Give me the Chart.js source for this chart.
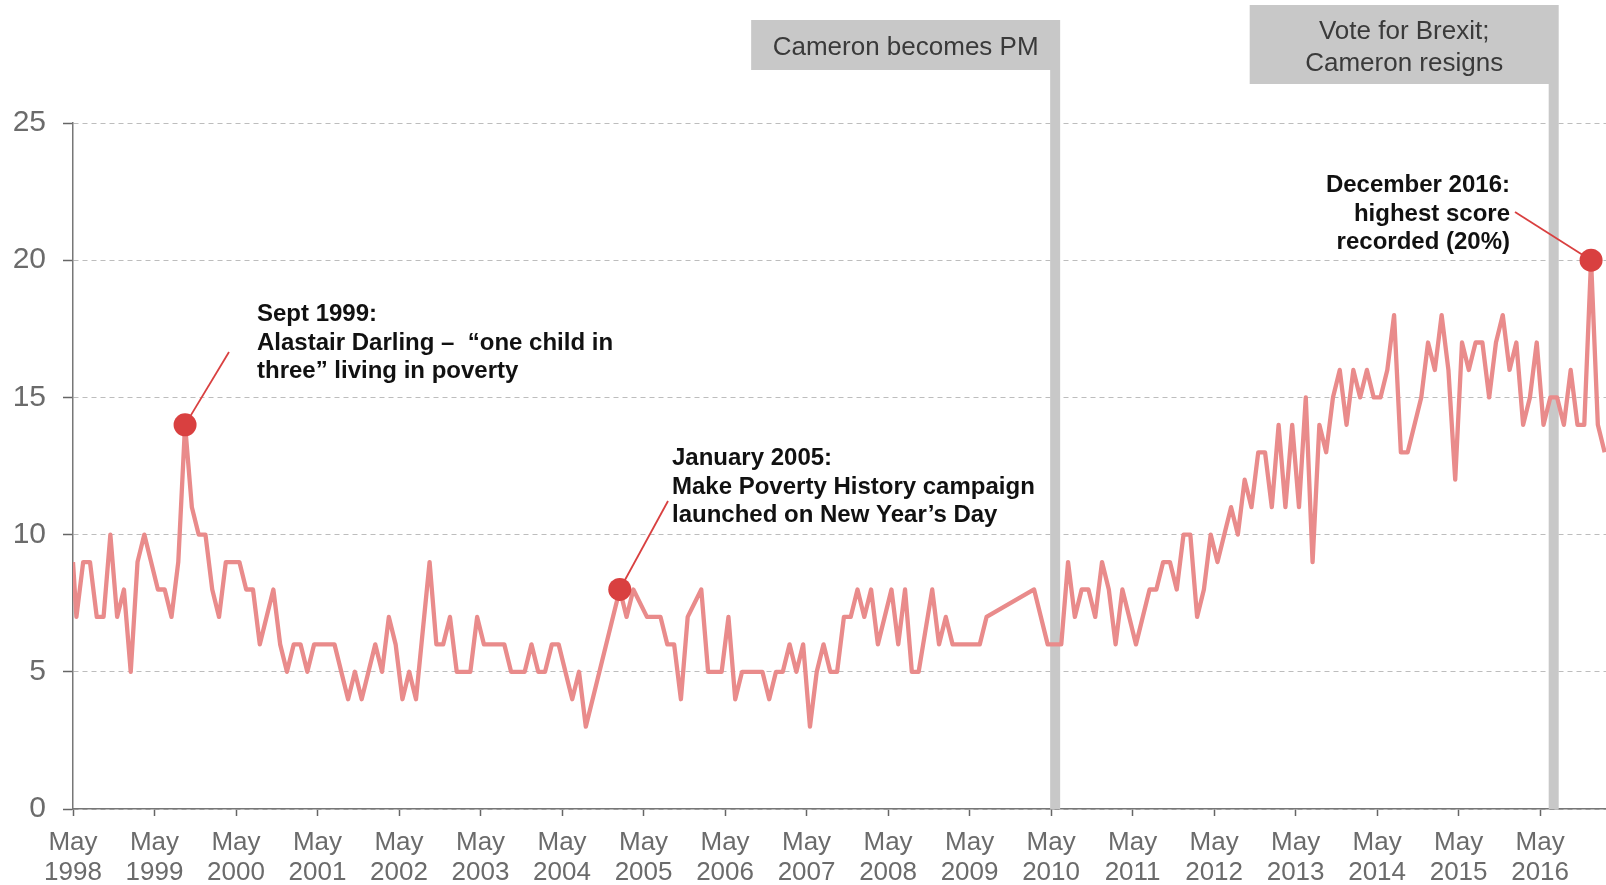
<!DOCTYPE html>
<html>
<head>
<meta charset="utf-8">
<script src="https://cdn.jsdelivr.net/npm/chart.js@4.4.1/dist/chart.umd.min.js"></script>
<style>
  html, body { margin: 0; padding: 0; background: #fff; }
  #wrap { width: 1606px; height: 885px; position: relative; }
</style>
</head>
<body>
<div id="wrap"><canvas id="chart"></canvas></div>
<script>
// months after May 1998 at which each reading was taken
var monthIdx = [
  0, 0.5, 1.5, 2.5, 3.5, 4.5, 5.5, 6.5, 7.5, 8.5, 9.5, 10.5, 12.5, 13.5, 14.5, 15.5,
  16.5, 17.5, 18.5, 19.5, 20.5, 21.5, 22.5, 24.5, 25.5, 26.5, 27.5, 29.5, 30.5, 31.5,
  32.5, 33.5, 34.5, 35.5, 38.5, 40.5, 41.5, 42.5, 44.5, 45.5, 46.5, 47.5, 48.5, 49.5,
  50.5, 52.5, 53.5, 54.5, 55.5, 56.5, 58.5, 59.5, 60.5, 63.5, 64.5, 66.5, 67.5, 68.5,
  69.5, 70.5, 71.5, 73.5, 74.5, 75.5, 80.5, 81.5, 82.5, 84.5, 86.5, 87.5, 88.5, 89.5,
  90.5, 92.5, 93.5, 95.5, 96.5, 97.5, 98.5, 101.5, 102.5, 103.5, 104.5, 105.5, 106.5,
  107.5, 108.5, 109.5, 110.5, 111.5, 112.5, 113.5, 114.5, 115.5, 116.5, 117.5, 118.5,
  120.5, 121.5, 122.5, 123.5, 124.5, 126.5, 127.5, 128.5, 129.5, 133.5, 134.5, 141.5,
  143.5, 145.5, 146.5, 147.5, 148.5, 149.5, 150.5, 151.5, 152.5, 153.5, 154.5, 156.5,
  158.5, 159.5, 160.5, 161.5, 162.5, 163.5, 164.5, 165.5, 166.5, 167.5, 168.5, 170.5,
  171.5, 172.5, 173.5, 174.5, 175.5, 176.5, 177.5, 178.5, 179.5, 180.5, 181.5, 182.5,
  183.5, 184.5, 185.5, 186.5, 187.5, 188.5, 189.5, 190.5, 191.5, 192.5, 193.5, 194.5,
  195.5, 196.5, 198.5, 199.5, 200.5, 201.5, 202.5, 203.5, 204.5, 205.5, 206.5, 207.5,
  208.5, 209.5, 210.5, 211.5, 212.5, 213.5, 214.5, 215.5, 216.5, 217.5, 218.5, 219.5,
  220.5, 221.5, 222.5, 223.5, 224.5, 225.5
];
// % naming poverty as an important issue
var issueShare = [
  9, 7, 9, 9, 7, 7, 10, 7, 8, 5, 9, 10, 8, 8, 7, 9,
  14, 11, 10, 10, 8, 7, 9, 9, 8, 8, 6, 8, 6, 5,
  6, 6, 5, 6, 6, 4, 5, 4, 6, 5, 7, 6, 4, 5,
  4, 9, 6, 6, 7, 5, 5, 7, 6, 6, 5, 5, 6, 5,
  5, 6, 6, 4, 5, 3, 8, 7, 8, 7, 7, 6, 6, 4,
  7, 8, 5, 5, 7, 4, 5, 5, 4, 5, 5, 6, 5,
  6, 3, 5, 6, 5, 5, 7, 7, 8, 7, 8, 6,
  8, 6, 8, 5, 5, 8, 6, 7, 6, 6, 7, 8,
  6, 6, 9, 7, 8, 8, 7, 9, 8, 6, 8, 6,
  8, 8, 9, 9, 8, 10, 10, 7, 8, 10, 9, 11,
  10, 12, 11, 13, 13, 11, 14, 11, 14, 11, 15, 9,
  14, 13, 15, 16, 14, 16, 15, 16, 15, 15, 16, 18,
  13, 13, 15, 17, 16, 18, 16, 12, 17, 16, 17, 17,
  15, 17, 18, 16, 17, 14, 15, 17, 14, 15, 15, 14,
  16, 14, 14, 20, 14, 13
];
var yTicks = [0, 5, 10, 15, 20, 25];
var firstYear = 1998;

var noteMonths = [16.5, 80.5, 223.5];
var noteLines = [
  ['Sept 1999:', 'Alastair Darling \u2013  \u201cone child in', 'three\u201d living in poverty'],
  ['January 2005:', 'Make Poverty History campaign', 'launched on New Year\u2019s Day'],
  ['December 2016:', 'highest score', 'recorded (20%)']
];
var eventMonths = [144.6, 218];
var eventLabels = [['Cameron becomes PM'], ['Vote for Brexit;', 'Cameron resigns']];

var points = monthIdx.map(function (m, i) { return { x: m, y: issueShare[i] }; });
var highlights = noteMonths.map(function (m) {
  return { x: m, y: issueShare[monthIdx.indexOf(m)] };
});

// text blocks and connector start points (pixels)
var noteLayout = [
  { x: 257, y: 321, align: 'left', lx: 229, ly: 352 },
  { x: 672, y: 465, align: 'left', lx: 668, ly: 501 },
  { x: 1510, y: 192, align: 'right', lx: 1515, ly: 212 }
];
var boxLayout = [
  { top: 20, h: 50 },
  { top: 5, h: 79 }
];

var overlay = {
  id: 'overlay',
  beforeDatasetsDraw: function (chart) {
    var ctx = chart.ctx, xs = chart.scales.x, ys = chart.scales.y;
    ctx.save();
    // event bars
    ctx.fillStyle = '#c8c8c8';
    eventMonths.forEach(function (m, i) {
      var px = xs.getPixelForValue(m);
      var b = boxLayout[i];
      ctx.fillRect(px - 5, b.top + b.h, 10, ys.bottom - (b.top + b.h));
    });
    // connectors
    ctx.strokeStyle = '#d94040';
    ctx.lineWidth = 1.8;
    highlights.forEach(function (p, i) {
      var L = noteLayout[i];
      ctx.beginPath();
      ctx.moveTo(L.lx, L.ly);
      ctx.lineTo(xs.getPixelForValue(p.x), ys.getPixelForValue(p.y));
      ctx.stroke();
    });
    ctx.restore();
  },
  afterDraw: function (chart) {
    var ctx = chart.ctx, xs = chart.scales.x;
    ctx.save();
    // event boxes
    eventMonths.forEach(function (m, i) {
      var px = xs.getPixelForValue(m);
      var b = boxLayout[i];
      var right = px + 5, w = 309;
      ctx.fillStyle = '#c8c8c8';
      ctx.fillRect(right - w, b.top, w, b.h);
      ctx.fillStyle = '#3a3a3a';
      ctx.font = '26px "Liberation Sans", Arial, sans-serif';
      ctx.textAlign = 'center';
      ctx.textBaseline = 'middle';
      var lines = eventLabels[i], lh = 32;
      var cy = b.top + b.h / 2 - (lines.length - 1) * lh / 2;
      lines.forEach(function (t, k) { ctx.fillText(t, right - w / 2, cy + k * lh + 3); });
    });
    // notes
    ctx.fillStyle = '#111';
    ctx.font = 'bold 24px "Liberation Sans", Arial, sans-serif';
    ctx.textBaseline = 'alphabetic';
    noteLines.forEach(function (lines, i) {
      var L = noteLayout[i];
      ctx.textAlign = L.align;
      lines.forEach(function (t, k) { ctx.fillText(t, L.x, L.y + k * 28.7); });
    });
    ctx.restore();
  }
};

new Chart(document.getElementById('chart'), {
  type: 'line',
  data: {
    datasets: [
      {
        data: highlights,
        showLine: false,
        pointRadius: 11.5,
        pointHoverRadius: 11.5,
        pointBackgroundColor: '#d94040',
        pointBorderWidth: 0,
        order: 0
      },
      {
        data: points,
        borderColor: '#e98b8b',
        borderWidth: 4.3,
        pointRadius: 0,
        tension: 0,
        borderJoinStyle: 'round',
        fill: false,
        order: 1
      }
    ]
  },
  options: {
    responsive: true,
    maintainAspectRatio: false,
    animation: false,
    events: [],
    layout: { autoPadding: false, padding: { top: 123, right: 0, left: 0, bottom: 0 } },
    plugins: { legend: { display: false }, tooltip: { enabled: false } },
    scales: {
      x: {
        type: 'linear',
        min: 0,
        max: 225.7,
        afterFit: function (s) { s.height = 76; },
        grid: { drawOnChartArea: false, drawTicks: true, tickLength: 7, tickColor: '#666', tickWidth: 1.5 },
        border: { color: '#777', width: 1.5 },
        ticks: {
          stepSize: 12,
          includeBounds: false,
          autoSkip: false,
          maxRotation: 0,
          padding: 11,
          color: '#6b6b6b',
          font: { family: '"Liberation Sans", Arial, sans-serif', size: 26, lineHeight: 1.18 },
          callback: function (v) {
            if (v % 12 !== 0) return null;
            return ['May', String(firstYear + v / 12)];
          }
        }
      },
      y: {
        min: 0,
        max: 25,
        afterFit: function (s) { s.width = 73; },
        afterBuildTicks: function (s) { s.ticks = yTicks.map(function (v) { return { value: v }; }); },
        grid: { color: '#bdbdbd', lineWidth: 1, tickLength: 10, tickColor: '#666', tickWidth: 1.5 },
        border: { color: '#777', width: 1.5, dash: [5, 4] },
        ticks: {
          padding: 17,
          color: '#6b6b6b',
          font: { family: '"Liberation Sans", Arial, sans-serif', size: 30 }
        }
      }
    }
  },
  plugins: [overlay]
});
</script>
</body>
</html>
